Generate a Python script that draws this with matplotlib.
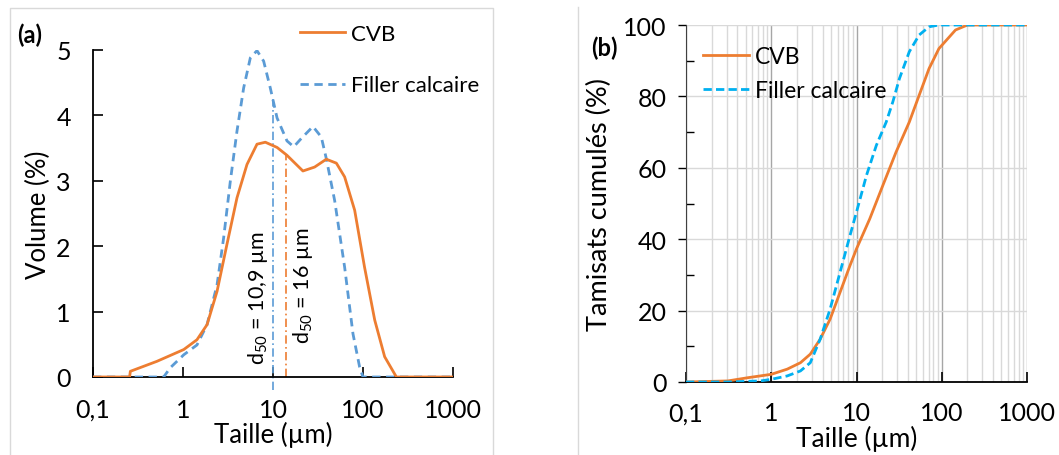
import numpy as np
import matplotlib.pyplot as plt
from matplotlib.lines import Line2D
from matplotlib.ticker import FixedLocator, NullFormatter

plt.rcParams['font.family'] = ['Lato', 'DejaVu Sans']

# (a) distribution granulométrique (volume %)
taille_cvb_a = [0.1, 0.255, 0.26, 0.514, 1.02, 1.43, 1.85, 2.39, 3.08, 3.98, 5.14, 6.64, 8.22,
                11.1, 14.3, 21.5, 29.0, 39.1, 50.6, 62.5, 80.8, 104.0, 135.0, 174.0, 235.0, 1000.0]
vol_cvb_a = [0.0, 0.0, 0.087, 0.24, 0.42, 0.57, 0.80, 1.31, 2.03, 2.74, 3.25, 3.56, 3.59,
             3.51, 3.39, 3.15, 3.21, 3.33, 3.27, 3.06, 2.55, 1.68, 0.87, 0.31, 0.0, 0.0]

taille_fc_a = [0.1, 0.61, 0.72, 1.02, 1.43, 1.85, 2.39, 2.83, 3.36, 3.98, 4.72, 5.6, 6.64, 7.87,
               9.33, 11.1, 14.3, 17.0, 20.7, 27.8, 34.4, 39.1, 48.4, 62.5, 77.4, 91.8, 100.0, 1000.0]
vol_fc_a = [0.0, 0.0, 0.14, 0.34, 0.49, 0.80, 1.41, 2.13, 3.0, 3.76, 4.42, 4.88, 4.99, 4.83,
            4.42, 3.96, 3.61, 3.52, 3.65, 3.83, 3.67, 3.34, 2.70, 1.68, 0.66, 0.15, 0.0, 0.0]

# (b) tamisats cumulés (%)
taille_cvb_b = [0.1, 0.31, 0.53, 1.0, 1.54, 2.2, 2.87, 3.75, 4.9, 6.41, 8.38, 10.0, 14.3, 20.4, 29.1,
                41.6, 54.3, 71.0, 92.7, 145.0, 200.0, 1000.0]
cum_cvb_b = [0.0, 0.3, 1.2, 2.15, 3.6, 5.4, 7.8, 12.0, 17.6, 25.1, 32.6, 37.3, 45.7, 55.1, 64.4,
             72.8, 80.3, 87.8, 93.4, 98.6, 100.0, 100.0]

taille_fc_b = [0.1, 0.31, 0.75, 1.0, 1.54, 2.2, 2.87, 3.75, 4.9, 6.41, 8.38, 10.0, 13.1, 17.1, 22.3,
               26.7, 31.9, 41.6, 54.3, 71.0, 92.7, 1000.0]
cum_fc_b = [0.0, 0.0, 0.3, 0.75, 1.7, 3.1, 5.4, 12.0, 20.4, 30.7, 41.0, 47.6, 57.9, 66.3, 72.8,
            78.5, 85.0, 92.5, 97.2, 99.5, 100.0, 100.0]

d50_fc_pos, d50_fc_txt = 10.0, '10,9'
d50_cvb_pos, d50_cvb_txt = 13.8, '16'

orange = '#ED7D31'
bleu_a = '#5B9BD5'
bleu_b = '#00B0F0'

decades = [0.1, 1, 10, 100, 1000]
dec_labels = ['0,1', '1', '10', '100', '1000']

fig = plt.figure(figsize=(10.59, 4.56), dpi=100)

# cadres gris des deux graphiques
fig.add_artist(Line2D([10/1059, 10/1059, 493/1059, 493/1059], [0, 1-9/456, 1-9/456, 0],
                      color='#D9D9D9', lw=1.0, transform=fig.transFigure))
fig.add_artist(Line2D([578/1059, 578/1059], [0, 1-8/456], color='#D9D9D9', lw=1.0,
                      transform=fig.transFigure))

# ---------------- (a) ----------------
ax1 = fig.add_axes([93/1059, 1-378/456, 360/1059, 327/456])
ax1.plot(taille_fc_a, vol_fc_a, color=bleu_a, lw=2, ls=(0, (3, 2)), label='Filler calcaire', zorder=3)
ax1.plot(taille_cvb_a, vol_cvb_a, color=orange, lw=2, label='CVB', zorder=3)
ax1.vlines(d50_fc_pos, -0.2, np.interp(d50_fc_pos, taille_fc_a, vol_fc_a), color=bleu_a, lw=1.2,
           ls=(0, (5, 2, 1, 2)), clip_on=False)
ax1.vlines(d50_cvb_pos, 0, np.interp(d50_cvb_pos, taille_cvb_a, vol_cvb_a), color=orange, lw=1.2,
           ls=(0, (5, 2, 1, 2)))
ax1.text(6.8, 0.2, r'd$\mathregular{_{50}}$ = ' + d50_fc_txt + ' µm', rotation=90,
         ha='center', va='bottom', fontsize=15.5)
ax1.text(21.5, 0.52, r'd$\mathregular{_{50}}$ = ' + d50_cvb_txt + ' µm', rotation=90,
         ha='center', va='bottom', fontsize=15.5)

ax1.set_xscale('log')
ax1.set_xlim(0.1, 1000)
ax1.set_ylim(0, 5)
ax1.xaxis.set_major_locator(FixedLocator(decades))
ax1.set_xticklabels(dec_labels)
ax1.xaxis.set_minor_locator(FixedLocator([]))
ax1.set_yticks([0, 1, 2, 3, 4, 5])
ax1.tick_params(direction='in', length=7, width=1.2, labelsize=18, pad=15)
ax1.tick_params(axis='y', pad=16)
for s in ['top', 'right']:
    ax1.spines[s].set_visible(False)
for s in ['left', 'bottom']:
    ax1.spines[s].set_linewidth(1.3)
ax1.set_xlabel('Taille (µm)', fontsize=18.5, labelpad=0)
ax1.set_ylabel('Volume (%)', fontsize=18.5, labelpad=4)
h, l = ax1.get_legend_handles_labels()
ax1.legend(h[::-1], l[::-1], loc='upper left', bbox_to_anchor=(0.52, 1.14), frameon=False,
           fontsize=16, handlelength=2.0, labelspacing=1.4, handletextpad=0.3)
fig.text(17/1059, 1-35/456, '(a)', fontsize=17, fontweight='bold', va='center')

# ---------------- (b) ----------------
ax2 = fig.add_axes([686/1059, 1-383/456, 341/1059, 357/456])
ax2.plot(taille_cvb_b, cum_cvb_b, color=orange, lw=2, label='CVB', zorder=3)
ax2.plot(taille_fc_b, cum_fc_b, color=bleu_b, lw=2, ls=(0, (3, 1.5)), label='Filler calcaire', zorder=3)
ax2.set_xscale('log')
ax2.set_xlim(0.1, 1000)
ax2.set_ylim(0, 100)
ax2.xaxis.set_major_locator(FixedLocator(decades))
ax2.set_xticklabels(dec_labels)
minors = [m * d for d in [0.1, 1, 10, 100] for m in range(2, 10)]
ax2.xaxis.set_minor_locator(FixedLocator(minors))
ax2.xaxis.set_minor_formatter(NullFormatter())
ax2.set_yticks([0, 20, 40, 60, 80, 100])
ax2.set_yticks([10, 30, 50, 70, 90], minor=True)
ax2.grid(True, which='major', axis='x', color='#A6A6A6', lw=1.0)
ax2.grid(True, which='minor', axis='x', color='#D9D9D9', lw=1.0)
ax2.grid(True, which='major', axis='y', color='#D9D9D9', lw=1.0)
ax2.tick_params(axis='x', which='major', direction='in', length=7, width=1.2, labelsize=18, pad=14)
ax2.tick_params(axis='x', which='minor', length=0)
ax2.tick_params(axis='y', which='major', direction='out', length=6, width=1.0, labelsize=18, pad=8)
ax2.tick_params(axis='y', which='minor', direction='in', length=6, width=1.0)
for s in ['top', 'right']:
    ax2.spines[s].set_visible(False)
ax2.spines['left'].set_color('#404040')
ax2.spines['bottom'].set_linewidth(1.3)
ax2.set_axisbelow(True)
ax2.set_xlabel('Taille (µm)', fontsize=19, labelpad=0)
ax2.set_ylabel('Tamisats cumulés (%)', fontsize=19.5, labelpad=8)
ax2.legend(loc='upper left', bbox_to_anchor=(-0.01, 1.0), frameon=False,
           fontsize=16.5, handlelength=2.0, labelspacing=0.6, handletextpad=0.25)
fig.text(591/1059, 1-48/456, '(b)', fontsize=17, fontweight='bold', va='center')

fig.savefig('out.png', dpi=100)
